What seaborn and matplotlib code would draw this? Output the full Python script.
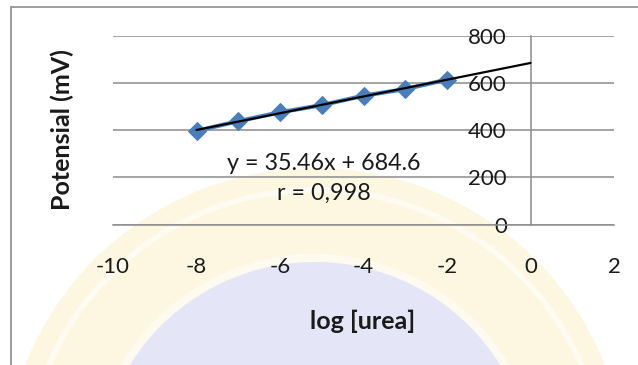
import numpy as np
import pandas as pd
import matplotlib
matplotlib.use("Agg")
import matplotlib.pyplot as plt
from matplotlib.patches import Circle
from matplotlib.lines import Line2D
import seaborn as sns

# Calibration data: potential vs log of urea concentration
log_urea = [-8, -7, -6, -5, -4, -3, -2]
potential_mv = [397, 438, 476, 506, 546, 574, 614]

# Linear fit as reported
slope = 35.46
intercept = 684.6
r_value = "0,998"

x_ticks = [-10, -8, -6, -4, -2, 0, 2]
y_ticks = [0, 200, 400, 600, 800]

sns.set_style("white")
plt.rcParams["font.family"] = ["Lato", "DejaVu Sans"]

W, H = 638, 365
fig = plt.figure(figsize=(W / 100, H / 100), dpi=100)
fig.patch.set_facecolor("white")

# faint seal watermark behind the chart
bg = fig.add_axes([0, 0, 1, 1], zorder=-5)
bg.set_xlim(0, W)
bg.set_ylim(H, 0)
bg.axis("off")
bg.add_patch(Circle((315, 480), 312, color="#fdf7e2", lw=0))
bg.add_patch(Circle((315, 480), 290, fill=False, ec="#fefbf2", lw=4))
bg.add_patch(Circle((315, 480), 226, color="#fefaf0", lw=0))
bg.add_patch(Circle((315, 480), 218, color="#e4e6f8", lw=0))

# outer chart frame (left and top edges)
fig.add_artist(Line2D([11 / W, 11 / W], [0, 1 - 7 / H], transform=fig.transFigure,
                      color="#8c8c8c", lw=1.2))
fig.add_artist(Line2D([11 / W, 1], [1 - 7 / H, 1 - 7 / H], transform=fig.transFigure,
                      color="#8c8c8c", lw=1.2))

ax = fig.add_axes([113 / W, 1 - 224.7 / H, 501 / W, 189 / H])
ax.set_facecolor("none")

df = pd.DataFrame({"log [urea]": log_urea, "Potensial (mV)": potential_mv})
sns.lineplot(data=df, x="log [urea]", y="Potensial (mV)", ax=ax, color="#4a7ebb",
             lw=3, marker="D", markersize=9.5, markeredgecolor="#4a7ebb", zorder=3)

trend_x = np.array([log_urea[0], 0.0])
trend = pd.DataFrame({"x": trend_x, "y": slope * trend_x + intercept})
sns.lineplot(data=trend, x="x", y="y", ax=ax, color="black", lw=1.6, zorder=4)

ax.set_xlim(-10, 2)
ax.set_ylim(0, 800)
ax.set_xticks(x_ticks)
ax.set_yticks(y_ticks)
ax.set_xticklabels([str(t) for t in x_ticks])
ax.set_yticklabels([str(t) for t in y_ticks])

ax.grid(axis="y", color="#8c8c8c", lw=1.1)
ax.grid(axis="x", visible=False)
ax.set_axisbelow(True)

for s in ("top", "right"):
    ax.spines[s].set_visible(False)
ax.spines["left"].set_position(("data", 0))
ax.spines["bottom"].set_position(("data", 0))
for s in ("left", "bottom"):
    ax.spines[s].set_color("#8c8c8c")
    ax.spines[s].set_linewidth(1.1)

ax.tick_params(axis="x", direction="out", length=6, width=1.1, color="#8c8c8c",
               labelsize=16, pad=17, labelcolor="#1a1a1a")
ax.tick_params(axis="y", length=0, labelsize=16, pad=17, labelcolor="#1a1a1a")

ax.set_xlabel("")
ax.set_ylabel("")
fig.text(363 / W, 1 - 321 / H, "log [urea]", ha="center", va="center",
         fontsize=18, fontweight="bold", color="#1a1a1a")
fig.text(62 / W, 1 - 130 / H, "Potensial (mV)", ha="center", va="center",
         rotation=90, fontsize=18, fontweight="bold", color="#1a1a1a")

ax.text(-4.95, 261, f"y = {slope:.2f}x + {intercept:.1f}", ha="center", va="center",
        fontsize=16.8, color="#1a1a1a")
ax.text(-4.95, 134, f"r = {r_value}", ha="center", va="center",
        fontsize=16.8, color="#1a1a1a")

fig.savefig("out.png", dpi=100)
